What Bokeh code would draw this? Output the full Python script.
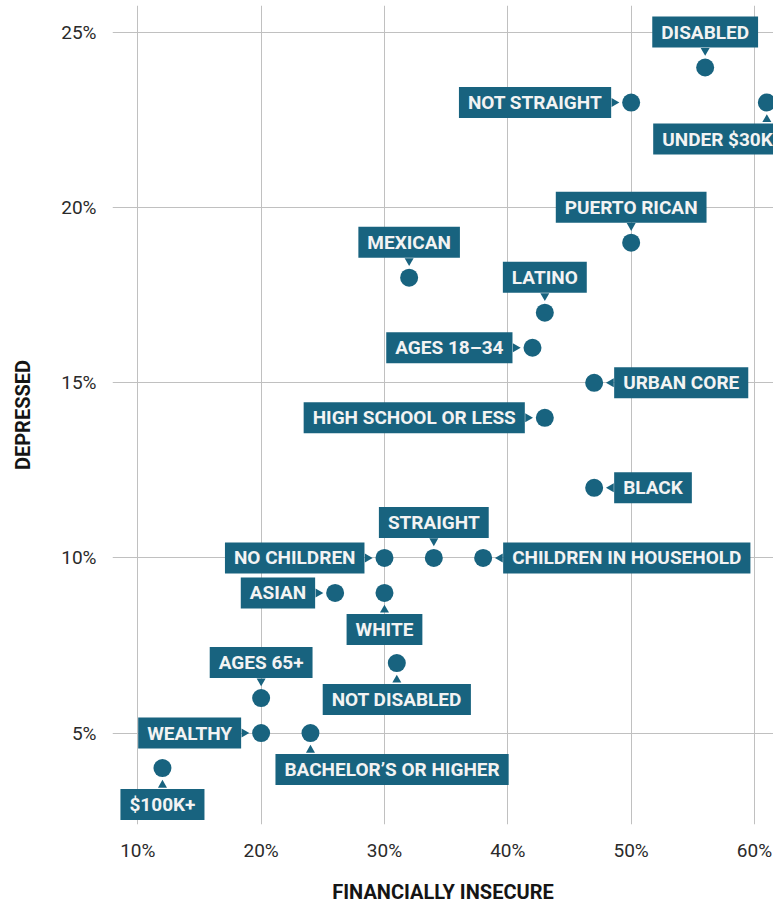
import math
from bokeh.plotting import figure
from bokeh.models import ColumnDataSource, Range1d, FixedTicker
from bokeh.core.properties import value
from bokeh.embed import file_html
from bokeh.resources import INLINE

# ---------------- data ----------------
groups = ["DISABLED", "NOT STRAIGHT", "UNDER $30K", "PUERTO RICAN", "MEXICAN", "LATINO",
          "AGES 18–34", "URBAN CORE", "HIGH SCHOOL OR LESS", "BLACK", "NO CHILDREN",
          "STRAIGHT", "CHILDREN IN HOUSEHOLD", "ASIAN", "WHITE", "NOT DISABLED",
          "AGES 65+", "WEALTHY", "BACHELOR’S OR HIGHER", "$100K+"]
financially_insecure = [56, 50, 61, 50, 32, 43, 42, 47, 43, 47, 30, 34, 38, 26, 30, 31, 20, 20, 24, 12]
depressed = [24, 23, 23, 19, 18, 17, 16, 15, 14, 12, 10, 10, 10, 9, 9, 7, 6, 5, 5, 4]

x_ticks = [10, 20, 30, 40, 50, 60]
x_tick_labels = ["10%", "20%", "30%", "40%", "50%", "60%"]
y_ticks = [5, 10, 15, 20, 25]
y_tick_labels = ["5%", "10%", "15%", "20%", "25%"]
x_title = "FINANCIALLY INSECURE"
y_title = "DEPRESSED"

# ---------------- label placement (layout, not data) ----------------
label_side = ["above", "left", "below", "above", "above", "above", "left", "right", "left",
              "right", "left", "above", "right", "left", "below", "below", "above", "left",
              "below", "below"]
# horizontal anchoring tweak for the two off-centre boxes
label_hshift = {"UNDER $30K": ("top_right", 15), "BACHELOR’S OR HIGHER": ("top_left", -35)}

TEAL = "#18637f"
FONT = "Roboto"
GAP = 20      # px from point centre to box edge
TRI = 17      # px from point centre to pointer centre

X0, X1 = 7.95, 61.54
Y0, Y1 = 2.39, 25.77
W, H = 773, 906
ML, MR, MT, MB = 112, 0, 5, 80
FW, FH = W - ML - MR, H - MT - MB
px_x = FW / (X1 - X0)
px_y = FH / (Y1 - Y0)

anchors, xo, yo, tx, ty, tang = [], [], [], [], [], []
for g, x, y, s in zip(groups, financially_insecure, depressed, label_side):
    if s == "above":
        a, dx, dy = "bottom_center", 0, -GAP
        tx.append(x); ty.append(y + TRI / px_y); tang.append(math.pi)
    elif s == "below":
        a, dx, dy = "top_center", 0, GAP + 1
        tx.append(x); ty.append(y - TRI / px_y); tang.append(0.0)
    elif s == "left":
        a, dx, dy = "center_right", -GAP, 0
        tx.append(x - TRI / px_x); ty.append(y); tang.append(-math.pi / 2)
    else:
        a, dx, dy = "center_left", GAP, 0
        tx.append(x + TRI / px_x); ty.append(y); tang.append(math.pi / 2)
    if g in label_hshift:
        a, dx = label_hshift[g]
    anchors.append(a); xo.append(dx); yo.append(dy)

src = ColumnDataSource(dict(x=financially_insecure, y=depressed, name=groups,
                            anchor=anchors, xo=xo, yo=yo))
tri_src = ColumnDataSource(dict(x=tx, y=ty, angle=tang))

p = figure(width=W, height=H, output_backend="svg", toolbar_location=None,
           x_range=Range1d(X0, X1), y_range=Range1d(Y0, Y1),
           min_border_left=ML, min_border_right=MR, min_border_top=MT, min_border_bottom=MB)
p.outline_line_color = None
p.background_fill_color = "white"
p.border_fill_color = "white"

for ax, ticks, labels in ((p.xaxis[0], x_ticks, x_tick_labels), (p.yaxis[0], y_ticks, y_tick_labels)):
    ax.ticker = FixedTicker(ticks=ticks)
    ax.major_label_overrides = dict(zip(ticks, labels))
    ax.axis_line_color = None
    ax.major_tick_line_color = None
    ax.minor_tick_line_color = None
    ax.major_tick_out = 0
    ax.major_tick_in = 0
    ax.major_label_text_font = FONT
    ax.major_label_text_font_size = "19px"
    ax.major_label_text_color = "#2a2a2a"
    ax.axis_label_text_font = FONT
    ax.axis_label_text_font_style = "bold"
    ax.axis_label_text_font_size = "20px"
    ax.axis_label_text_color = "#151515"

p.xaxis.axis_label = x_title
p.yaxis.axis_label = y_title
p.xaxis.major_label_standoff = 14
p.xaxis.axis_label_standoff = 15
p.yaxis.major_label_standoff = 16
p.yaxis.axis_label_standoff = 23

p.xgrid.grid_line_color = "#c0c0c0"
p.ygrid.grid_line_color = "#c0c0c0"
p.xgrid.grid_line_width = 1
p.ygrid.grid_line_width = 1

p.scatter("x", "y", source=tri_src, marker="triangle", angle="angle", size=9,
          fill_color=TEAL, line_color=None)
p.text("x", "y", text="name", source=src, anchor="anchor", x_offset="xo", y_offset="yo",
       text_font=value(FONT), text_font_style="bold", text_font_size="19px",
       text_color="#f3f3f3", text_align="center", text_baseline="middle",
       background_fill_color=TEAL, padding=dict(left=9, right=9, top=4, bottom=4))
p.scatter("x", "y", source=src, size=18, fill_color=TEAL, line_color=None)

open("out.html", "w").write(file_html(p, INLINE))
